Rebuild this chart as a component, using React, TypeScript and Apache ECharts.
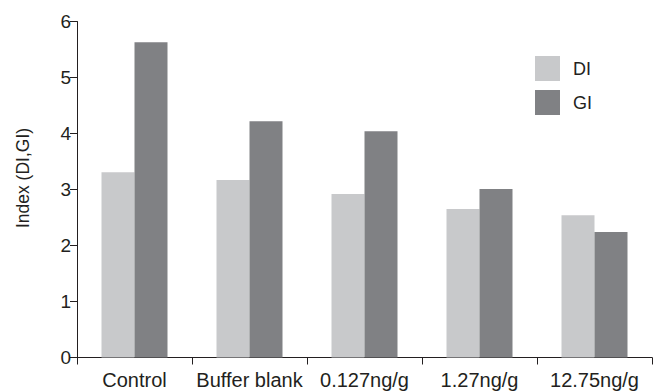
import React, { useEffect, useRef } from "react";
import * as echarts from "echarts";

const categories = ["Control", "Buffer blank", "0.127ng/g", "1.27ng/g", "12.75ng/g"];
const diValues = [3.31, 3.17, 2.92, 2.65, 2.54];
const giValues = [5.63, 4.22, 4.04, 3.01, 2.24];
const seriesNames = ["DI", "GI"];
const yAxisTitle = "Index (DI,GI)";

const FONT = "'Liberation Sans', Arial, Helvetica, sans-serif";
const INK = "#231f20";

export default function App() {
  const ref = useRef<HTMLDivElement>(null);
  useEffect(() => {
    document.body.style.margin = "0";
    const chart = echarts.init(ref.current!, null, { renderer: "svg" });
    chart.setOption({
      animation: false,
      backgroundColor: "#ffffff",
      grid: { left: 77, right: 5, top: 21.5, bottom: 33.5, containLabel: false },
      legend: {
        orient: "vertical",
        left: 530,
        top: 51,
        itemWidth: 25,
        itemHeight: 25,
        itemGap: 9,
        icon: "rect",
        data: seriesNames,
        textStyle: { fontSize: 18, color: INK, fontFamily: FONT, padding: [0, 0, 0, 8] },
      },
      xAxis: {
        type: "category",
        data: categories,
        axisLine: { show: true, lineStyle: { color: INK, width: 1 } },
        axisTick: { show: true, length: 7, lineStyle: { color: INK } },
        axisLabel: { fontSize: 20, color: INK, fontFamily: FONT, margin: 12, interval: 0 },
        splitLine: { show: false },
      },
      yAxis: {
        type: "value",
        min: 0,
        max: 6,
        interval: 1,
        axisLine: { show: true, lineStyle: { color: INK, width: 1 } },
        axisTick: { show: true, length: 7, lineStyle: { color: INK } },
        axisLabel: { fontSize: 19, color: INK, fontFamily: FONT, margin: 6 },
        splitLine: { show: false },
      },
      graphic: [
        {
          type: "text",
          x: 23,
          y: 178,
          rotation: Math.PI / 2,
          style: {
            text: yAxisTitle,
            fontSize: 17.5,
            fontFamily: FONT,
            fill: INK,
            align: "center",
            verticalAlign: "middle",
          },
        },
      ],
      series: [
        {
          name: seriesNames[0],
          type: "bar",
          data: diValues,
          barWidth: 33,
          barGap: "0%",
          itemStyle: { color: "#c8c9cb" },
        },
        {
          name: seriesNames[1],
          type: "bar",
          data: giValues,
          barWidth: 33,
          barGap: "0%",
          itemStyle: { color: "#808184" },
        },
      ],
    });
    return () => chart.dispose();
  }, []);
  return (
    <div
      ref={ref}
      style={{ width: 657, height: 391, position: "absolute", left: 0, top: 0 }}
    />
  );
}
